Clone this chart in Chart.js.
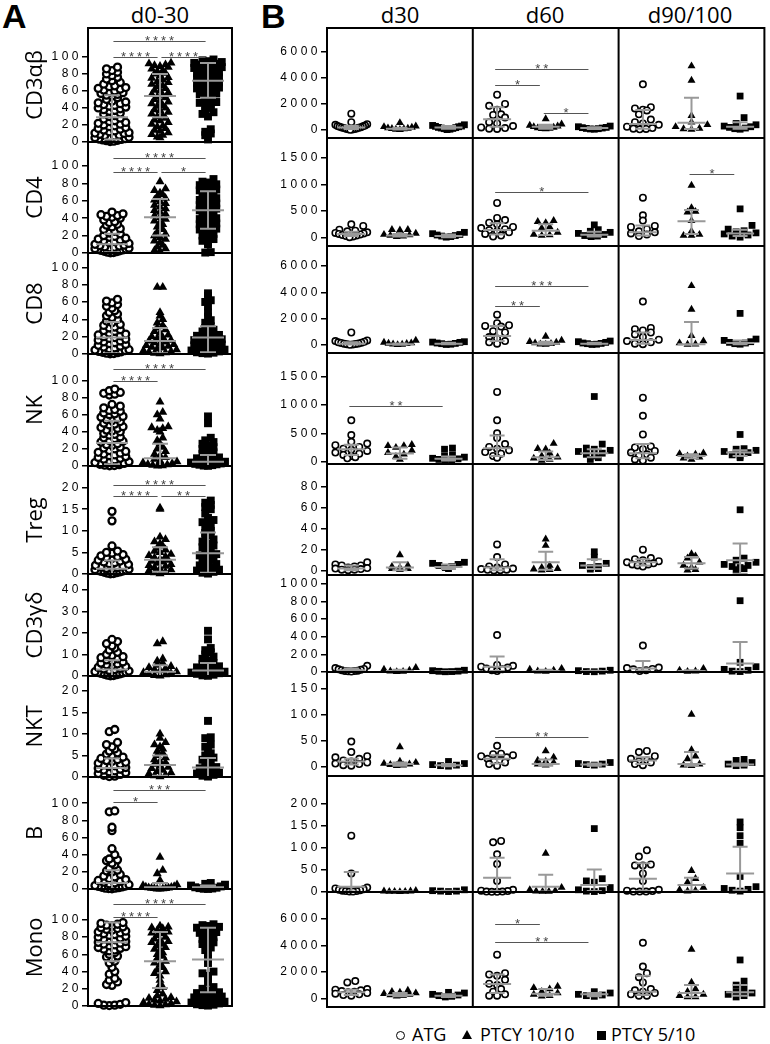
<!DOCTYPE html>
<html>
<head>
<meta charset="utf-8">
<title>Immune reconstitution by subset</title>
<script src="https://cdn.jsdelivr.net/npm/chart.js@4.4.1/dist/chart.umd.min.js"></script>
<style>
  body { margin: 0; background: #fff; }
  #page { position: relative; width: 770px; height: 1044px; overflow: hidden; font-family: "Open Sans", sans-serif; color: #000; }
  canvas { position: absolute; top: 0; }
  .letter { position: absolute; top: -1px; font: bold 34px/34px "Liberation Sans", Arial, sans-serif; }
  .coltitle { position: absolute; top: 3px; font-size: 22px; line-height: 22px; transform: translateX(-50%); white-space: nowrap; }
  .lg { position: absolute; top: 1025px; font-size: 18px; line-height: 18px; white-space: nowrap; }
  .sym { position: absolute; box-sizing: border-box; }
</style>
</head>
<body>
<div id="page">
  <div class="letter" style="left:2px">A</div>
  <div class="letter" style="left:261px">B</div>
  <div class="coltitle" style="left:160px">d0-30</div>
  <div class="coltitle" style="left:400px">d30</div>
  <div class="coltitle" style="left:545px">d60</div>
  <div class="coltitle" style="left:690px">d90/100</div>
  <canvas id="chartA" width="240" height="1020" style="left:0"></canvas>
  <canvas id="chartB" width="530" height="1020" style="left:240px"></canvas>
  <span class="sym" style="left:396px;top:1031px;width:9px;height:9px;border:1.5px solid #000;border-radius:50%"></span>
  <span class="lg" style="left:412px">ATG</span>
  <span class="sym" style="left:462px;top:1030px;width:0;height:0;border-left:5px solid transparent;border-right:5px solid transparent;border-bottom:9px solid #000"></span>
  <span class="lg" style="left:480px">PTCY 10/10</span>
  <span class="sym" style="left:597px;top:1031px;width:9px;height:9px;background:#000"></span>
  <span class="lg" style="left:611px">PTCY 5/10</span>
</div>
<script>
const groups = ['ATG', 'PTCY 10/10', 'PTCY 5/10'];
const subsets = ['CD3αβ', 'CD4', 'CD8', 'NK', 'Treg', 'CD3γδ', 'NKT', 'B', 'Mono'];
const days = ['d30', 'd60', 'd90/100'];

// tick labels
const ticks100 = [0, 20, 40, 60, 80, 100];
const ticks20 = [0, 5, 10, 15, 20];
const ticks40 = [0, 10, 20, 30, 40];
const ticks6000 = [0, 2000, 4000, 6000];
const ticks1500 = [0, 500, 1000, 1500];
const ticks80 = [0, 20, 40, 60, 80];
const ticks1000 = [0, 200, 400, 600, 800, 1000];
const ticks150 = [0, 50, 100, 150];
const ticks200 = [0, 50, 100, 150, 200];

// ---- panel A: % of cells, d0-30 (ATG, PTCY 10/10, PTCY 5/10) ----
const pctCD3ab = [
  [0.5,1,1.5,2,2.5,3,3.5,4,5,5.5,6,7,7.5,8,9,10,10.5,11,12,13,14,15,16,17,18,19,20,21,22,23,24,25,27,28,30,31,33,34,36,37,38,39,40,41,42,43,44,45,46,47,48,50,52,54,55,56,57,58,59,60,61,62,63,64,65,66,68,70,72,74,76,78,80,82,84,86,88],
  [5,6,8,9,11,13,14,16,18,19,21,23,25,26,28,30,31,33,35,37,38,40,42,43,45,47,48,50,52,53,55,56,58,60,61,63,65,66,68,70,71,73,75,76,78,80,81,83,84,86,88,89,90,91,92,93],
  [3,8,10,12,15,30,33,35,37,40,42,44,46,47,49,51,53,55,56,57,59,60,61,63,64,65,67,68,69,70,72,73,74,75,76,78,79,80,81,82,83,84,85,86,87,88,89,90,91,92,93,94,95,96,97]
];
const pctCD4 = [
  [0.3,0.6,1,1.5,2,2.5,3,3.5,4,4.5,5,5.5,6,6.5,7,8,8.5,9,10,11,12,13,14,15,16,17,18,19,20,22,23,25,27,28,30,32,33,35,36,38,40,41,42,43,44,45,47],
  [2,3,5,7,9,12,14,16,18,20,22,24,27,30,33,35,37,39,41,43,45,47,49,51,53,55,57,59,61,63,65,67,69,72,74,82],
  [0.5,1,10,12,14,16,18,20,22,24,25,27,28,30,31,33,34,36,37,39,40,42,43,45,46,48,49,51,52,54,55,57,58,60,61,63,64,66,67,69,70,72,73,75,76,78,79,81,82,85]
];
const pctCD8 = [
  [0.3,0.6,1,1.5,2,2.5,3,4,4.5,5,6,7,8,9,10,11,12,13,14,15,16,17,18,19,20,21,22,23,24,26,27,28,30,31,33,34,36,38,40,42,44,46,48,50,53,55,57,59,61,63],
  [0.5,1,1.5,2,3,4,5,6,7,8,9,10,11,12,13,14,15,16,18,19,20,22,24,26,28,30,33,36,40,44,48,77,77],
  [0.5,1,1.5,2,3,4,5,6,7,8,9,10,11,12,13,14,15,16,17,18,19,20,21,22,24,26,28,30,32,36,39,43,48,55,60,62,67,70]
];
const pctNK = [
  [0.3,0.6,1,1.5,2,3,4,5,6,7,8,9,10,11,12,13,14,15,16,17,18,20,21,22,24,25,26,28,29,30,32,33,34,36,37,38,40,41,42,44,45,46,48,49,50,52,53,54,56,57,58,60,61,62,64,65,66,68,70,72,83,84,85,86,88,90],
  [0.2,0.5,1,1.5,2,3,4,5,6,8,10,12,14,17,20,22,26,30,33,40,42,44,45,46,55,60,63,75],
  [0.2,0.5,1,1.5,2,2.5,3,4,5,6,7,8,9,10,12,14,16,18,20,22,24,26,28,30,33,50,58]
];
const pctTreg = [
  [0.05,0.1,0.2,0.3,0.4,0.5,0.6,0.7,0.8,0.9,1,1.1,1.2,1.3,1.5,1.6,1.8,2,2.2,2.4,2.6,2.8,3,3.2,3.4,3.6,3.8,4,4.2,4.5,4.8,5,5.3,6.5,12.3,14.5],
  [0.1,0.3,0.5,0.8,1,1.2,1.5,1.8,2,2.2,2.5,2.8,3,3.2,3.5,3.8,4,4.3,4.6,5,5.3,5.6,6,6.5,7,7.5,8,8.6,15,15.3],
  [0.1,0.3,0.5,0.8,1,1.3,1.6,2,2.3,2.6,3,3.3,3.6,4,4.3,4.6,5,5.4,5.8,6.2,6.6,7,7.5,8,8.5,9,9.5,10,10.5,11,11.6,12,12.5,13,14,15,15.5,16,16.5,17]
];
const pctCD3gd = [
  [0.1,0.2,0.4,0.6,0.8,1,1.2,1.4,1.6,1.8,2,2.3,2.6,3,3.3,3.6,4,4.4,4.8,5.2,5.6,6,6.5,7,7.5,8,8.5,9,9.5,10,11,12,13,14,15,16,17],
  [0.1,0.3,0.6,1,1.3,1.6,2,2.5,3,3.5,4,4.5,5,6,7,8,15,16],
  [0.1,0.3,0.6,1,1.3,1.6,2,2.5,3,3.5,4,4.5,5,5.5,6,7,8,9,10,11,12,13,17,21]
];
const pctNKT = [
  [0.1,0.2,0.4,0.6,0.8,1,1.2,1.4,1.6,1.8,2,2.2,2.4,2.6,2.8,3,3.2,3.4,3.6,3.8,4,4.3,4.6,5,5.3,5.6,6,6.5,7,7.5,8,10.5,11],
  [0.1,0.3,0.5,0.8,1,1.3,1.6,2,2.3,2.6,3,3.3,3.6,4,4.5,5,5.5,6,6.5,7,7.5,8,9,10],
  [0.1,0.3,0.5,0.8,1,1.3,1.6,2,2.3,2.6,3,3.5,4,4.5,5,5.5,6,7,7.5,9,9.2,13]
];
const pctB = [
  [0.2,0.5,1,1,1.5,2,2.5,3,3.5,4,5,6,7,8,9,10,11,12,14,15,17,20,21,22,24,28,30,33,34,35,40,47,68,72,90,91],
  [0.1,0.2,0.4,0.6,0.8,1,1.2,1.5,2,2.5,3,4,5,10,18,22,37],
  [0.1,0.3,0.6,1,1.5,2,3,4,5,6,7]
];
const pctMono = [
  [0.5,1,1,2,3,4,24,25,28,30,32,37,40,45,50,52,55,57,58,60,62,64,65,66,67,68,69,70,71,72,73,74,75,76,77,78,79,80,81,82,83,84,85,86,87,88,89,90,91,92,93,94,95,96,97],
  [0.5,1,1.5,2,3,4,5,6,7,8,9,10,12,14,18,22,25,30,35,38,40,42,45,48,50,52,55,58,60,62,65,66,68,70,72,74,75,76,78,80,82,84,85,86,88,90,91,92,93],
  [0.5,1,1.5,2,3,4,5,6,7,8,9,10,11,12,13,14,15,16,18,20,22,28,32,35,38,40,50,55,60,65,68,70,72,74,76,78,80,82,84,85,86,88,89,90,91,92,93,94,95]
];
// centre line, lower whisker, upper whisker per group
const pctBars = [
  [[29, 3, 55], [54, 29, 80], [72, 52, 93]],
  [[10, 1, 22], [41, 20, 62], [49, 28, 71]],
  [[19, 1, 37], [15, 1, 30], [19, 2, 32]],
  [[27, 2, 53], [9, 0, 26], [5, 0, 13]],
  [[1.2, 0, 3.1], [3.3, 0.5, 6.2], [4.8, 0.3, 9.6]],
  [[3, 0, 7.3], [2, 0, 5], [2.5, 0, 6]],
  [[2.1, 0, 4.3], [2.8, 0.3, 5], [2.2, 0, 4.4]],
  [[7, 0, 22], [2, 0, 7], [2, 0, 4]],
  [[74, 52, 97], [52, 21, 86], [54, 16, 91]]
];
// significance: from group, to group, label, height
const pctSig = [
  [[0, 1, '****', 100], [1, 2, '****', 100], [0, 2, '****', 119]],
  [[0, 1, '****', 93], [1, 2, '*', 93], [0, 2, '****', 109]],
  [],
  [[0, 1, '****', 99], [0, 2, '****', 113]],
  [[0, 1, '****', 18.1], [1, 2, '**', 18.1], [0, 2, '****', 20.6]],
  [],
  [],
  [[0, 1, '*', 101], [0, 2, '***', 115]],
  [[0, 1, '****', 104], [0, 2, '****', 118]]
];
const pctTicks = [ticks100, ticks100, ticks100, ticks100, ticks20, ticks40, ticks20, ticks100, ticks100];

// ---- panel B: absolute counts, d30 | d60 | d90/100, each ATG, PTCY 10/10, PTCY 5/10 ----
const absCD3ab = [
  [1250,600,450,400,350,300,280,250,220,200,180,150,120,100,80,60,40,20],
  [550,300,250,200,150,120,100,80,50,30],
  [400,350,300,280,250,200,180,150,120,100,60,30],
  [2700,2000,1850,1550,1200,1150,950,600,500,300,200,150,100,80],
  [850,450,350,300,250,200,150,120,100,80],
  [300,250,200,180,150,120,100,80,60],
  [3500,1750,1650,1550,1500,1200,800,600,500,400,250,150,100,80,50],
  [4900,3800,1100,600,400,250,120,80,50],
  [2600,950,500,400,300,250,200,150,100,60]
];
const absCD4 = [
  [250,220,150,130,120,100,90,80,70,60,50,40,30,20,10],
  [150,150,140,80,60,50,40,30,20],
  [100,75,60,50,40,30,20,10],
  [650,370,330,280,250,200,180,160,140,120,100,70,40,20],
  [320,300,280,200,180,100,60,50,40],
  [240,150,120,100,80,60,40,30,20],
  [750,420,320,220,200,160,120,100,80,60,30],
  [980,560,490,480,320,120,60,40,40],
  [540,230,160,130,110,90,70,50,30,10]
];
const absCD8 = [
  [950,350,300,250,200,180,150,120,100,80,60,40,20],
  [350,200,150,120,100,60,40,20],
  [250,220,200,150,120,100,60,40],
  [2300,1650,1500,1450,1400,1050,950,600,500,300,200,100],
  [650,350,250,200,150,100,60,40],
  [300,250,200,150,120,100,60,40],
  [3300,1300,1200,1100,950,800,600,400,300,200,100,60],
  [4500,2700,700,300,150,60,40],
  [2400,450,350,250,200,150,100,60]
];
const absNK = [
  [730,470,350,320,290,260,230,210,190,160,140,120,100,80,60],
  [300,280,280,250,200,160,130,90,40],
  [240,220,120,100,80,60,50,40,30,20],
  [1230,730,500,420,310,260,230,200,170,140,100,70],
  [320,230,220,150,100,80,60,40,20],
  [1150,310,240,220,200,180,150,130,100,70,40],
  [1130,810,480,270,250,220,190,160,130,100,70,40,20],
  [150,140,130,100,80,60,40],
  [480,230,220,200,180,160,120,100,70]
];
const absTreg = [
  [8,6,5,5,4,3,2.5,2,1.5,1,1,0.5],
  [15,5,4,3,2,2,1],
  [8,7,6,5,4,3,2],
  [25,13,6,4,3,2,1.5,1,0.8,0.5,0.3],
  [30,24,5,3,2,1.5,1,0.5],
  [18,13,7,5,4,3,2,1.5],
  [20,12,11,10,9,8,7,6,6,5,4],
  [16,14,12,8,5,3,1,0.5],
  [58,12,10,8,6,5,4,3,2,1]
];
const absCD3gd = [
  [70,45,35,30,25,20,15,12,10,8,5],
  [50,30,20,10,5,3],
  [20,15,10,8,5,3],
  [420,80,70,60,50,40,30,20,10],
  [40,30,20,10,5],
  [20,15,10,5,3],
  [300,50,45,35,30,20,10],
  [40,20,10,5],
  [810,110,60,30,20,10,5]
];
const absNKT = [
  [48,28,20,18,15,12,10,8,6,5,3,2],
  [38,10,8,6,5,4,3,2],
  [10,6,4,3,2,1],
  [40,25,24,22,20,18,15,12,10,8,5,2],
  [30,18,12,10,8,5,3],
  [8,6,5,4,3],
  [30,28,20,15,12,10,8,5,3],
  [100,32,20,15,5,3,2],
  [14,12,8,5,3,2]
];
const absB = [
  [127,42,10,8,6,5,4,3,2,2,1,1],
  [3,2,2,1,1,1,0.5],
  [5,3,2,2,1],
  [115,112,85,63,25,5,3,2,1,1,0.5,0.5],
  [87,10,5,3,2,1,1],
  [143,30,25,22,10,5,3,2,1],
  [94,80,62,60,60,42,25,5,3,2,1,1,1],
  [48,30,22,10,5,3,2],
  [158,145,127,110,35,12,8,6,4,2]
];
const absMono = [
  [1300,1200,700,650,600,550,500,450,400,350,300,250,200],
  [600,500,450,400,350,300,250,200,150],
  [450,400,300,250,200,150,100],
  [3300,1900,1800,1700,1400,1100,1000,700,500,300,200,200],
  [900,800,700,500,400,300,200,150],
  [500,400,300,250,200,150],
  [4200,2400,1900,1600,1200,700,600,500,400,300,200,200],
  [3700,1200,700,500,300,200,100,100],
  [2900,1300,1000,700,500,400,300,200,100]
];
const absBars = [
  [[200,80,320],[100,40,180],[200,100,300],[820,250,1740],[250,100,400],[150,80,220],[460,100,1530],[560,80,2480],[250,100,600]],
  [[70,30,110],[40,20,70],[30,10,60],[145,60,270],[130,50,250],[55,20,110],[100,40,230],[310,70,520],[80,30,150]],
  [[100,40,200],[50,20,120],[100,50,180],[680,300,1440],[100,40,250],[100,50,180],[380,100,950],[60,20,1750],[150,60,350]],
  [[219,120,300],[143,50,250],[50,20,90],[236,100,460],[80,30,180],[150,80,220],[150,60,310],[100,60,130],[160,100,200]],
  [[2,0.5,5],[3,0.5,8],[3.5,1.5,6],[3,0.5,11],[8,1,18],[5,1.5,11],[8,5,11],[7,2,13],[10,-3,26]],
  [[20,5,40],[10,3,25],[5,2,12],[60,10,175],[10,3,25],[10,3,15],[40,10,125],[10,3,20],[96,10,340]],
  [[10,4,15],[5,2,8],[3,1,5],[15,6,22],[5,2,14],[4,2,6],[12,5,18],[5,2,28],[4,2,6]],
  [[12,1,45],[1,0.5,2],[2,1,3],[32,2,77],[12,1,39],[16,2,51],[30,2,65],[16,3,32],[42,4,102]],
  [[450,250,650],[250,150,400],[200,100,300],[1080,400,1800],[350,200,700],[300,150,400],[500,250,1700],[400,100,1000],[450,200,1000]]
];
const absSig = [
  [[3, 4, '*', 3448], [3, 5, '**', 4651], [4, 5, '*', 1280]],
  [[3, 5, '*', 857], [7, 8, '*', 1200]],
  [[3, 4, '**', 2985], [3, 5, '***', 4481]],
  [[0, 2, '**', 988]],
  [],
  [],
  [[3, 5, '**', 56]],
  [],
  [[3, 4, '*', 5599], [3, 5, '**', 4282]]
];
const absTicks = [ticks6000, ticks1500, ticks6000, ticks1500, ticks80, ticks1000, ticks150, ticks200, ticks6000];

// ---- layout (pixel heights of each row and axis extents) ----
const rowHeightA = [114, 111, 101, 112, 108, 102, 101, 112, 117];
const rangeA = [[0, 134], [0, 127.6], [0, 116.5], [0, 131], [0, 25], [0, 47.4], [0, 23.4], [0, 130.6], [0, 136]];
const rowHeightB = [110, 108, 107, 111, 111, 97, 104, 116, 115];
const rangeB = [[-613, 7816], [-156, 1869], [-608, 7519], [-41, 1918], [-4.1, 101.6], [0, 1102], [-17.8, 181.2], [0, 261.6], [-658, 8043]];

const pctValues = [pctCD3ab, pctCD4, pctCD8, pctNK, pctTreg, pctCD3gd, pctNKT, pctB, pctMono];
const absValues = [absCD3ab, absCD4, absCD8, absNK, absTreg, absCD3gd, absNKT, absB, absMono];

const rowsA = subsets.map((name, r) => ({
  name, values: pctValues[r], bars: pctBars[r], sig: pctSig[r], ticks: pctTicks[r], range: rangeA[r], height: rowHeightA[r]
}));
const rowsB = subsets.map((name, r) => ({
  name, values: absValues[r], bars: absBars[r], sig: absSig[r], ticks: absTicks[r], range: rangeB[r], height: rowHeightB[r]
}));

// spread points sideways like a scatter dot plot: small values in the middle of each bin row
function swarm(vals, ppu, ymin, opt) {
  const bins = {};
  vals.forEach((v, i) => {
    const b = Math.floor((v - ymin) * ppu / opt.bin);
    (bins[b] = bins[b] || []).push(i);
  });
  const off = new Array(vals.length).fill(0);
  Object.values(bins).forEach(idx => {
    const n = idx.length;
    if (n < 2) return;
    const s = Math.min(opt.step, 2 * opt.half / (n - 1));
    const slots = idx.map((_, j) => (j - (n - 1) / 2) * s)
      .sort((a, b) => Math.abs(a) - Math.abs(b) || a - b);
    idx.sort((a, b) => vals[a] - vals[b]);
    idx.forEach((i, k) => { off[i] = slots[k]; });
  });
  return off;
}

function pointStyleFor(g, m) {
  if (g === 0) return { pointStyle: 'circle', pointRadius: m.circle, pointBackgroundColor: '#fff', pointBorderColor: '#000', pointBorderWidth: m.stroke };
  if (g === 1) return { pointStyle: 'triangle', pointRadius: m.tri, pointBackgroundColor: '#000', pointBorderColor: '#000', pointBorderWidth: 0 };
  return { pointStyle: 'rect', pointRadius: m.rect, pointBackgroundColor: '#000', pointBorderColor: '#000', pointBorderWidth: 0 };
}

function makeDatasets(rows, m, sw, xPx) {
  const out = [];
  rows.forEach((row, r) => {
    const ppu = row.height / (row.range[1] - row.range[0]);
    row.values.forEach((vals, g) => {
      const off = swarm(vals, ppu, row.range[0], sw);
      out.push(Object.assign({
        label: groups[g % 3],
        yAxisID: 'y' + r,
        clip: false,
        data: vals.map((v, i) => ({ x: g + 1 + off[i] / xPx, y: v }))
      }, pointStyleFor(g % 3, m)));
    });
  });
  return out;
}

function makeScales(rows, nx, axisW) {
  const scales = { x: { type: 'linear', min: 0.5, max: nx + 0.5, display: false } };
  rows.forEach((row, r) => {
    scales['y' + r] = {
      type: 'linear', position: 'left', stack: 'rows', stackWeight: row.height, weight: 100 - r,
      min: row.range[0], max: row.range[1],
      afterBuildTicks: s => { s.ticks = row.ticks.map(v => ({ value: v })); },
      afterFit: s => { s.width = axisW; },
      ticks: { autoSkip: false, padding: 0, color: '#000', font: { family: 'Liberation Sans', size: 12 }, callback: v => String(v) },
      grid: { drawOnChartArea: false, drawTicks: true, tickLength: 6, color: '#000', lineWidth: 1.5 },
      border: { display: false }
    };
  });
  return scales;
}

function decor(rows, opts) {
  return {
    id: 'decor',
    beforeDraw(chart) { chart.ctx.letterSpacing = '3.5px'; },
    afterDatasetsDraw(chart) {
      const ctx = chart.ctx, xs = chart.scales.x;
      ctx.save();
      rows.forEach((row, r) => {
        const ys = chart.scales['y' + r];
        ctx.strokeStyle = '#999';
        ctx.lineWidth = 2;
        row.bars.forEach(([mid, lo, hi], g) => {
          const x = xs.getPixelForValue(g + 1);
          const yM = ys.getPixelForValue(mid), yL = ys.getPixelForValue(lo), yH = ys.getPixelForValue(hi);
          ctx.beginPath();
          ctx.moveTo(x, yL); ctx.lineTo(x, yH);
          ctx.moveTo(x - opts.capW, yL); ctx.lineTo(x + opts.capW, yL);
          ctx.moveTo(x - opts.capW, yH); ctx.lineTo(x + opts.capW, yH);
          ctx.moveTo(x - opts.midW, yM); ctx.lineTo(x + opts.midW, yM);
          ctx.stroke();
        });
        row.sig.forEach(([a, b, label, yv]) => {
          const x1 = xs.getPixelForValue(a + 1 + opts.ends[0]);
          const x2 = xs.getPixelForValue(b + 1 + opts.ends[1]);
          const y = Math.round(ys.getPixelForValue(yv)) + 0.5;
          ctx.strokeStyle = '#555';
          ctx.lineWidth = 1;
          ctx.beginPath(); ctx.moveTo(x1, y); ctx.lineTo(x2, y); ctx.stroke();
          ctx.fillStyle = '#444';
          ctx.font = '13px "Liberation Sans"';
          ctx.textAlign = 'center';
          ctx.textBaseline = 'alphabetic';
          ctx.letterSpacing = '3px';
          ctx.fillText(label, (x1 + x2) / 2 + 1.5, y + 3.5);
        });
      });
      ctx.restore();
    },
    afterDraw(chart) {
      const ctx = chart.ctx, a = chart.chartArea, xs = chart.scales.x;
      ctx.save();
      ctx.strokeStyle = '#000';
      ctx.lineWidth = 2;
      ctx.strokeRect(a.left, a.top, a.right - a.left, a.bottom - a.top);
      ctx.beginPath();
      rows.forEach((row, r) => {
        if (r === rows.length - 1) return;
        const y = chart.scales['y' + r].bottom;
        ctx.moveTo(a.left, y); ctx.lineTo(a.right, y);
      });
      (opts.columnBreaks || []).forEach(v => {
        const x = xs.getPixelForValue(v);
        ctx.moveTo(x, a.top); ctx.lineTo(x, a.bottom);
      });
      ctx.stroke();
      if (opts.rowTitles) {
        ctx.letterSpacing = '0px';
        ctx.fillStyle = '#000';
        ctx.font = '22px "Open Sans"';
        ctx.textAlign = 'center';
        ctx.textBaseline = 'middle';
        rows.forEach((row, r) => {
          const ys = chart.scales['y' + r];
          ctx.save();
          ctx.translate(opts.titleX, (ys.top + ys.bottom) / 2);
          ctx.rotate(-Math.PI / 2);
          ctx.fillText(row.name, 0, 0);
          ctx.restore();
        });
      }
      ctx.restore();
    }
  };
}

function baseOptions(padding, scales) {
  return {
    responsive: false, animation: false, events: [],
    layout: { padding },
    plugins: { legend: { display: false }, tooltip: { enabled: false } },
    scales
  };
}

new Chart(document.getElementById('chartA'), {
  type: 'scatter',
  data: { datasets: makeDatasets(rowsA, { circle: 3.5, stroke: 2.3, tri: 5.2, rect: 5.6 }, { bin: 5, step: 5.5, half: 17 }, 48) },
  options: baseOptions({ left: 0, right: 8, top: 28, bottom: 14 }, makeScales(rowsA, 3, 88)),
  plugins: [decor(rowsA, { capW: 8, midW: 16, ends: [0.03, -0.05], rowTitles: true, titleX: 36 })]
});

new Chart(document.getElementById('chartB'), {
  type: 'scatter',
  data: { datasets: makeDatasets(rowsB, { circle: 3.2, stroke: 1.6, tri: 4.6, rect: 4.8 }, { bin: 7, step: 8, half: 16 }, 440 / 9) },
  options: baseOptions({ left: 0, right: 3, top: 28, bottom: 13 }, makeScales(rowsB, 9, 87)),
  plugins: [decor(rowsB, { capW: 7.5, midW: 14, ends: [-0.04, -0.12], columnBreaks: [3.5, 6.5] })]
});
</script>
</body>
</html>
